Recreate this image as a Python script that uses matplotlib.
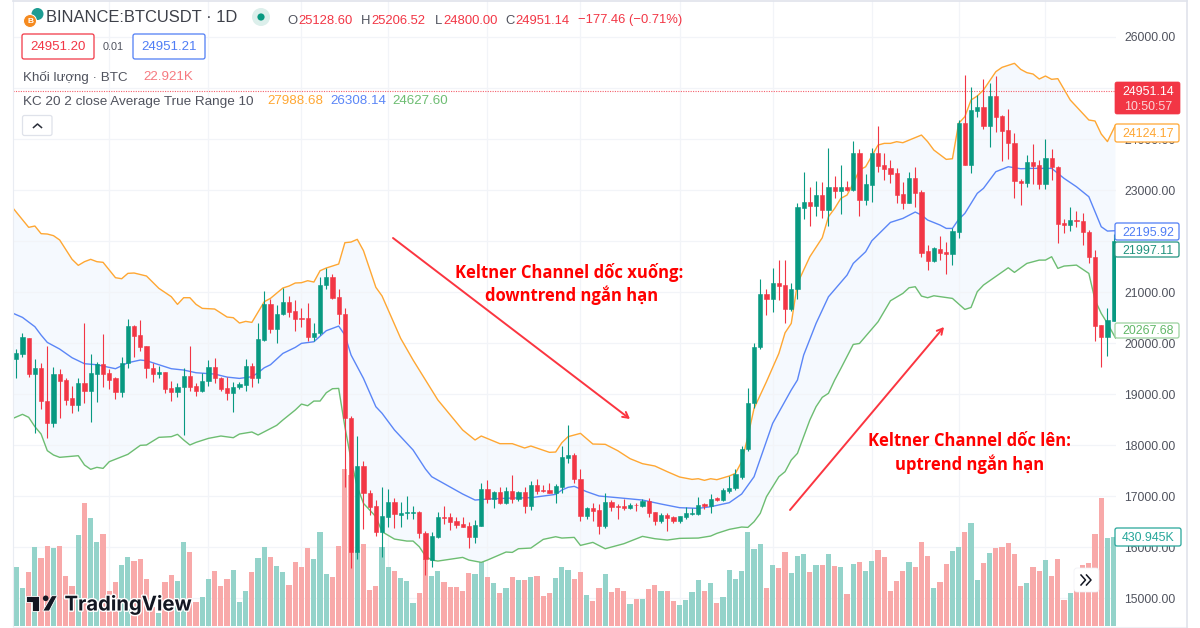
import numpy as np
import matplotlib
matplotlib.use('Agg')
import matplotlib.pyplot as plt
import matplotlib.patheffects as pe
from matplotlib.patches import Circle, FancyBboxPatch, Polygon

opens = [19687, 19785, 20106, 19393, 19517, 18864, 18434, 19393, 19276, 18916,
         18792, 19210, 19053, 19400, 19583, 19406, 19315, 19040, 19615, 20334,
         20158, 19942, 19517, 19393, 19426, 19112, 19040, 19132, 19354, 19158,
         19053, 19249, 19537, 19321, 19112, 19021, 19132, 19178, 19550, 19315,
         20060, 20759, 20276, 20570, 20805, 20628, 20491, 20485, 20125, 20191,
         21138, 21289, 20897, 20576, 18526, 15898, 17591, 17061, 16807, 16297,
         16597, 16885, 16637, 16663, 16669, 16689, 16271, 15748, 16205, 16591,
         16591, 16512, 16454, 16414, 16192, 16414, 17146, 16950, 17081, 16859,
         17101, 16937, 17081, 16807, 17218, 17114, 17120, 17068, 17173, 17754,
         17800, 17342, 16610, 16774, 16728, 16414, 16885, 16807, 16807, 16761,
         16833, 16807, 16905, 16689, 16519, 16630, 16591, 16512, 16591, 16643,
         16650, 16846, 16807, 16957, 16924, 17107, 17153, 17381, 17917, 18833,
         19915, 20954, 20863, 21170, 21131, 20660, 21052, 22647, 22771, 22686,
         22902, 22608, 23052, 22987, 23065, 23007, 23732, 22804, 23098, 23732,
         23490, 23425, 23327, 22922, 22745, 23229, 22954, 21797, 21601, 21843,
         21784, 21752, 22183, 24320, 23490, 24556, 24627, 24255, 24843, 24451,
         24176, 23928, 23176, 23131, 23555, 23490, 23118, 23621, 23457, 22353,
         22320, 22412, 22392, 22183, 21693, 20353, 20124, 20438]
highs = [19877, 20191, 20106, 19681, 19615, 19942, 19537, 19485, 19308, 19158,
         19308, 20387, 19785, 19635, 20178, 19485, 19328, 19720, 20465, 20354,
         20452, 19942, 19615, 19550, 19439, 19256, 19223, 19504, 19942, 19223,
         19419, 19668, 19700, 19341, 19328, 19243, 19243, 19681, 19602, 20400,
         21021, 20870, 20740, 21080, 20923, 20844, 20694, 20792, 20387, 21289,
         21472, 21354, 21066, 20681, 18578, 18186, 17689, 17120, 16924, 17173,
         17133, 16970, 16892, 17003, 16807, 16709, 16323, 16303, 16695, 16807,
         16663, 16597, 16584, 16493, 16532, 17251, 17316, 17107, 17173, 17186,
         17408, 17107, 17173, 17297, 17342, 17212, 17251, 17238, 17983, 18388,
         17852, 17525, 16793, 16859, 16846, 17055, 16924, 16846, 16950, 16859,
         16859, 16937, 16970, 16695, 16663, 16663, 16610, 16610, 16780, 16761,
         16976, 16872, 17035, 16976, 17153, 17395, 17525, 17989, 19114, 20002,
         21248, 21052, 21464, 21627, 21627, 21170, 22752, 23359, 23065, 23176,
         23163, 23817, 23274, 23490, 23183, 23961, 23797, 23314, 23817, 24255,
         23719, 23588, 23425, 23150, 23359, 23444, 23000, 21922, 21889, 22098,
         21987, 22248, 24373, 25255, 25013, 24863, 25176, 25105, 25242, 24471,
         24588, 24124, 23209, 23686, 23902, 23588, 23993, 23797, 23471, 22438,
         22660, 22595, 22542, 22216, 21824, 20353, 20680, 22137]
lows = [19308, 19733, 19328, 18238, 18713, 18140, 18356, 18532, 18785, 18630,
        18670, 18818, 18454, 18851, 19145, 19093, 18910, 18949, 19504, 19720,
        19851, 19315, 19230, 19315, 19027, 18857, 18949, 18199, 19066, 18968,
        19047, 19158, 19223, 19066, 18883, 18650, 19099, 19066, 19145, 19223,
        20047, 20191, 19995, 20550, 20504, 20243, 20321, 20047, 20047, 20158,
        21066, 20870, 20374, 17180, 15584, 15761, 16349, 16630, 16218, 15800,
        16401, 16369, 16401, 16558, 16558, 16186, 15454, 15617, 16173, 16454,
        16336, 16369, 16388, 15977, 16088, 16414, 16872, 16774, 16846, 16846,
        16859, 16911, 16676, 16728, 17042, 17081, 17055, 16859, 17068, 17643,
        17264, 16519, 16558, 16519, 16258, 16375, 16715, 16545, 16728, 16741,
        16715, 16793, 16584, 16441, 16480, 16323, 16480, 16480, 16545, 16624,
        16637, 16754, 16676, 16911, 16898, 17060, 17120, 17329, 17891, 18721,
        19889, 20549, 20614, 20843, 20399, 20634, 20856, 22425, 22294, 22490,
        22457, 22294, 22850, 22529, 22987, 22980, 22490, 22706, 22758, 23359,
        23196, 23144, 22739, 22627, 22739, 22673, 21693, 21431, 21588, 21627,
        21346, 21523, 22052, 23490, 23327, 24438, 24190, 23837, 24144, 23575,
        23601, 22843, 22712, 23052, 23118, 23013, 23026, 23196, 21967, 22163,
        22189, 22268, 21915, 21575, 20039, 19536, 19752, 20438]
closes = [19798, 20112, 19393, 19517, 18857, 18434, 19393, 19263, 18883, 18785,
          19210, 19053, 19406, 19583, 19400, 19276, 19040, 19615, 20334, 20145,
          19929, 19511, 19400, 19426, 19106, 19040, 19145, 19354, 19145, 19053,
          19256, 19537, 19321, 19099, 19021, 19145, 19191, 19550, 19315, 20073,
          20759, 20269, 20576, 20805, 20615, 20472, 20465, 20125, 20204, 21145,
          21289, 20890, 20570, 18532, 15898, 17591, 17055, 16793, 16303, 16610,
          16885, 16650, 16663, 16689, 16689, 16271, 15761, 16218, 16597, 16578,
          16499, 16434, 16401, 16192, 16434, 17146, 16944, 17081, 16859, 17101,
          16944, 17081, 16807, 17212, 17101, 17101, 17068, 17199, 17767, 17800,
          17329, 16617, 16774, 16715, 16421, 16885, 16793, 16793, 16761, 16826,
          16820, 16905, 16676, 16519, 16630, 16578, 16519, 16610, 16663, 16676,
          16833, 16813, 16937, 16931, 17114, 17159, 17427, 17924, 18833, 19930,
          20954, 20856, 21170, 21118, 20660, 21059, 22660, 22771, 22693, 22902,
          22608, 23052, 22987, 23065, 23000, 23732, 22804, 23118, 23732, 23471,
          23412, 23314, 22908, 22739, 23229, 22935, 21771, 21608, 21863, 21765,
          21752, 22189, 24320, 23497, 24569, 24627, 24261, 24843, 24438, 24163,
          23915, 23170, 23144, 23555, 23471, 23118, 23621, 23444, 22340, 22320,
          22412, 22386, 22183, 21693, 20340, 20124, 20451, 21993]
volumes_k = [287, 183, 260, 384, 329, 387, 379, 387, 243, 195,
             441, 595, 522, 407, 446, 169, 211, 295, 332, 315,
             324, 227, 93, 60, 214, 247, 219, 405, 357, 117,
             138, 227, 264, 192, 227, 271, 115, 171, 260, 329,
             384, 334, 292, 260, 198, 308, 284, 376, 324, 455,
             251, 235, 387, 760, 732, 368, 397, 174, 192, 384,
             287, 268, 232, 218, 110, 159, 322, 243, 265, 212,
             188, 188, 167, 256, 251, 308, 236, 207, 159, 183,
             238, 222, 222, 238, 243, 146, 159, 231, 286, 270,
             227, 259, 149, 120, 183, 251, 163, 183, 167, 105,
             129, 129, 178, 197, 167, 170, 120, 102, 125, 163,
             222, 167, 210, 110, 138, 270, 227, 266, 456, 373,
             397, 184, 295, 281, 357, 255, 339, 349, 260, 295,
             295, 349, 291, 284, 155, 300, 308, 266, 315, 368,
             336, 171, 216, 266, 312, 284, 405, 339, 184, 211,
             300, 363, 381, 454, 498, 223, 303, 352, 380, 384,
             401, 349, 195, 208, 287, 266, 320, 242, 325, 127,
             158, 206, 295, 305, 446, 619, 428, 431]

upper_idx = [-0.5, 2, 3, 4, 5, 6, 7, 9, 10, 11, 12, 13, 14, 16, 17, 18, 19, 21, 23, 25,
             26, 27, 28, 29, 30, 32, 34, 35, 36, 37, 38, 40, 41, 43, 44, 45, 46, 47, 48, 49,
             50, 52, 53, 54, 55, 56, 58, 59, 62, 64, 66, 68, 72, 74, 75, 78, 80, 82, 83, 86,
             87, 88, 89, 91, 93, 95, 97, 99, 101, 103, 105, 107, 109, 110, 111, 112, 113, 115, 116, 117,
             118, 119, 120, 121, 123, 124, 125, 126, 127, 128, 130, 131, 132, 133, 134, 135, 136, 137, 139, 140,
             141, 142, 143, 146, 147, 148, 150, 151, 152, 153, 154, 155, 156, 158, 159, 161, 162, 163, 164, 165,
             166, 167, 168, 170, 171, 173, 174, 175, 176, 177.3]
upper = [22642, 22269, 22295, 22145, 22138, 22106, 22021, 21642, 21524, 21596, 21642, 21596, 21583, 21282, 21262, 21367, 21374, 21315, 21073, 20910,
         20759, 20890, 20890, 20759, 20681, 20668, 20511, 20498, 20393, 20426, 20406, 20812, 20877, 21080, 21119, 21178, 21184, 21223, 21197, 21419,
         21472, 21550, 21968, 21981, 22034, 21812, 21093, 20923, 20093, 19669, 19277, 18885, 18297, 18101, 18179, 18029, 18029, 17944, 17983, 17859,
         17865, 18048, 18166, 18231, 18022, 18016, 17892, 17735, 17637, 17591, 17480, 17375, 17329, 17342, 17310, 17342, 17323, 17395, 17447, 17676,
         18166, 18721, 18983, 19244, 19797, 20202, 20386, 21170, 21431, 21693, 22065, 22477, 22640, 22837, 22902, 23131, 23392, 23457, 23882, 23915,
         23915, 23948, 23928, 24078, 23948, 23784, 23601, 23614, 24307, 24438, 24765, 24843, 24961, 25320, 25405, 25484, 25366, 25301, 25274, 25176,
         25235, 25170, 25183, 24765, 24634, 24373, 24353, 24098, 23950, 24275]
middle_idx = [-0.5, 1, 3, 4, 5, 7, 9, 11, 13, 16, 18, 20, 21, 23, 25, 27, 29, 32, 34, 36,
              38, 39, 40, 41, 43, 45, 46, 48, 50, 52, 53, 54, 56, 58, 59, 61, 64, 66, 67, 72,
              74, 76, 80, 83, 87, 88, 89, 90, 92, 94, 97, 101, 104, 107, 110, 112, 115, 117, 119, 122,
              125, 126, 127, 129, 131, 134, 135, 137, 138, 141, 143, 145, 146, 147, 149, 150, 151, 152, 153, 155,
              156, 158, 160, 162, 164, 167, 169, 171, 173, 175, 176, 177.3]
middle = [20583, 20504, 20321, 20158, 20014, 19883, 19713, 19596, 19576, 19498, 19615, 19668, 19655, 19576, 19498, 19472, 19419, 19393, 19334, 19308,
          19341, 19419, 19517, 19576, 19798, 19916, 19995, 20027, 20243, 20334, 20158, 19766, 19308, 18753, 18624, 18297, 17905, 17532, 17382, 17042,
          16924, 16944, 16963, 16970, 17035, 17120, 17173, 17192, 17088, 17003, 16970, 16924, 16846, 16774, 16761, 16793, 16872, 17042, 17381, 18427,
          19081, 19277, 19765, 20386, 20908, 21333, 21562, 21791, 22006, 22366, 22444, 22569, 22510, 22412, 22314, 22248, 22248, 22425, 22542, 22935,
          23033, 23359, 23457, 23418, 23425, 23425, 23229, 23065, 22869, 22281, 22196, 22203]
lower_idx = [-0.5, 1, 2, 3, 4, 5, 6, 7, 10, 11, 12, 13, 14, 15, 18, 20, 21, 23, 25, 26,
             27, 28, 29, 31, 33, 35, 36, 38, 39, 42, 43, 45, 46, 47, 48, 49, 50, 51, 52, 53,
             54, 55, 56, 58, 59, 61, 63, 64, 65, 66, 67, 68, 72, 73, 75, 76, 79, 80, 81, 83,
             85, 87, 88, 90, 91, 93, 95, 98, 101, 103, 105, 107, 110, 112, 113, 115, 117, 118, 119, 120,
             121, 123, 124, 125, 126, 128, 129, 130, 131, 132, 133, 135, 136, 139, 141, 143, 144, 145, 146, 147,
             148, 151, 153, 154, 155, 156, 160, 161, 163, 165, 166, 167, 168, 169, 171, 173, 174, 175, 176, 177.3]
lower = [18526, 18604, 18545, 18362, 18218, 17892, 17807, 17761, 17793, 17611, 17526, 17565, 17545, 17676, 17820, 17996, 18003, 18153, 18166, 18212,
         18101, 18003, 18055, 18133, 18179, 18146, 18218, 18258, 18199, 18388, 18493, 18689, 18805, 18772, 18864, 18864, 19027, 19106, 19112, 18362,
         17709, 17186, 16859, 16597, 16303, 16159, 16120, 16120, 16009, 15826, 15748, 15728, 15800, 15748, 15702, 15748, 15905, 15898, 15970, 15983,
         16153, 16205, 16179, 16192, 16035, 16094, 15970, 16068, 16212, 16166, 16140, 16173, 16179, 16218, 16271, 16349, 16395, 16388, 16499, 16663,
         16989, 17381, 17480, 17708, 17839, 18493, 18754, 18937, 19016, 19275, 19503, 19974, 19993, 20418, 20830, 20974, 21085, 21105, 20922, 20889,
         20928, 20876, 20660, 20699, 21007, 21137, 21477, 21386, 21562, 21627, 21627, 21693, 21464, 21510, 21529, 21366, 20843, 20582, 20386, 20100]

price_ticks = [26000, 25000, 24000, 23000, 22000, 21000, 20000, 19000, 18000, 17000, 16000, 15000]
hidden_ticks = [25000, 22000]  # sit behind the price tags
date_grid_idx = [15, 31, 46, 60, 76, 91, 107, 122, 138, 152, 166]
last_price = 24951.14

GREEN = '#089981'
RED = '#f23645'
VOL_GREEN = '#94d3ca'
VOL_RED = '#f8a9a9'
ORANGE = '#ffa733'
BLUE = '#5b86f7'
KC_GREEN = '#6dbd72'
TEXT = '#50535e'
GRID = '#f2f4f8'
FONT = 'Liberation Sans'

plt.rcParams['font.family'] = [FONT, 'DejaVu Sans']

fig = plt.figure(figsize=(12, 6.28), dpi=100, facecolor='white')
rect = [13 / 1200, 0, (1115.5 - 13) / 1200, 1]
ax_grid = fig.add_axes(rect, zorder=0)
ax_vol = fig.add_axes(rect, zorder=1)
ax = fig.add_axes(rect, zorder=2)
ax_vol.patch.set_visible(False)
ax.patch.set_visible(False)

x = np.arange(len(opens))
opens_a = np.array(opens)
closes_a = np.array(closes)
up = closes_a >= opens_a
xlim = (-0.53, 177.3)
ylim = (14416, 26725)

# grid sits under everything
ax_grid.set_xlim(*xlim)
ax_grid.set_ylim(*ylim)
ax_grid.vlines(date_grid_idx, *ylim, color=GRID, lw=0.9)
ax_grid.hlines(price_ticks, *xlim, color=GRID, lw=0.9)
ax_grid.axis('off')

# channel fill stays behind the volume pane
ax_grid.fill(list(upper_idx) + list(lower_idx)[::-1], list(upper) + list(lower)[::-1],
             color='#f4f9fe', alpha=0.85, lw=0, zorder=0.5)

# volume pane
ax_vol.bar(x, volumes_k, width=0.84, color=[VOL_GREEN if u else VOL_RED for u in up])
ax_vol.set_xlim(*xlim)
ax_vol.set_ylim(-11, 3040)
ax_vol.axis('off')

ax.plot(upper_idx, upper, color=ORANGE, lw=1.0, zorder=2)
ax.plot(middle_idx, middle, color=BLUE, lw=1.0, zorder=2)
ax.plot(lower_idx, lower, color=KC_GREEN, lw=1.0, zorder=2)

# candles
colors = [GREEN if u else RED for u in up]
ax.vlines(x, lows, highs, colors=colors, lw=0.8, zorder=3)
ax.bar(x, np.abs(closes_a - opens_a), bottom=np.minimum(opens_a, closes_a), width=0.68,
       color=colors, edgecolor=colors, lw=0.4, zorder=4)

ax.axhline(last_price, color='#f4606c', lw=0.8, ls=(0, (1, 1.2)), zorder=1.5)

ax.set_xlim(*xlim)
ax.set_ylim(*ylim)
ax.set_xticks([])
ax.yaxis.tick_right()
ax.set_yticks(price_ticks)
ax.set_yticklabels(['' if p in hidden_ticks else '%.2f' % p for p in price_ticks],
                   fontsize=8.7, color=TEXT)
ax.tick_params(axis='y', length=0, pad=6.2)
for p in ['top', 'left', 'right', 'bottom']:
    ax.spines[p].set_visible(False)

# chart furniture, in screen pixels
ui = fig.add_axes([0, 0, 1, 1], zorder=5)
ui.set_xlim(0, 1200)
ui.set_ylim(628, 0)
ui.axis('off')
ui.patch.set_visible(False)


def label(px, py, s, color=TEXT, size=8.7, **kw):
    kw.setdefault('va', 'center')
    return ui.text(px, py, s, color=color, fontsize=size, **kw)


def box(x0, y0, x1, y1, edge, face='white', lw=0.9, r=2):
    ui.add_patch(FancyBboxPatch((x0 + r, y0 + r), x1 - x0 - 2 * r, y1 - y0 - 2 * r,
                                boxstyle='round,pad=%g,rounding_size=%g' % (r, r),
                                fc=face, ec=edge, lw=lw))


ui.plot([13, 13], [0, 626], color='#e9ecf2', lw=0.8)
ui.plot([13, 1187], [0.5, 0.5], color='#e0e3eb', lw=1.2)
ui.plot([13, 1187], [626.5, 626.5], color='#eef0f5', lw=0.8)
ui.plot([1187, 1187], [0, 628], color='#e0e3eb', lw=1.2)

# price scale tags
box(1115, 82, 1180, 114, RED, RED, lw=0.5)
label(1148, 92, '24951.14', 'white', 8.9, ha='center')
label(1148, 106.5, '10:50:57', '#fbd5d8', 8.9, ha='center')
for top, bot, s, c, bc in [(124, 142, '24124.17', ORANGE, ORANGE),
                           (223, 240, '22195.92', '#4f7df5', '#4f7df5'),
                           (242, 257, '21997.11', '#22937f', '#22937f'),
                           (323, 338, '20267.68', '#62b868', '#9bd29f')]:
    box(1115, top, 1179, bot, bc)
    label(1148, (top + bot) / 2 + 1, s, c, 8.9, ha='center')
box(1115, 528, 1181, 546, '#26a69a')
label(1148, 538, '430.945K', '#26a69a', 8.9, ha='center')

# header
ui.add_patch(Circle((37.5, 14), 6, fc='#1d9c92', ec='none'))
ui.add_patch(Circle((30, 21), 6.5, fc='#f58a1f', ec='white', lw=0.7))
label(30, 21.5, 'B', 'white', 6, ha='center', fontweight='bold')
label(45.5, 18, 'BINANCE:BTCUSDT · 1D', '#3d4049', 11.9)
ui.add_patch(Circle((261, 17), 9, fc='#dcefeb', ec='none'))
ui.add_patch(Circle((261, 17), 3.6, fc=GREEN, ec='none'))

for px, s, c in [(287, 'O', TEXT), (298, '25128.60', RED), (361, 'H', TEXT), (371.5, '25206.52', RED),
                 (434.5, 'L', TEXT), (443, '24800.00', RED), (505, 'C', TEXT), (515.5, '24951.14', RED),
                 (578, '\u2212177.46 (\u22120.71%)', RED)]:
    label(px, 20.5, s, c, 9.4)

box(22, 34, 94, 59, RED)
label(58, 47, '24951.20', RED, 9.5, ha='center')
label(113.5, 47, '0.01', TEXT, 7.8, ha='center')
box(133, 34, 205, 59, '#4f7df5')
label(169, 47, '24951.21', '#4f7df5', 9.5, ha='center')

label(23, 77.5, 'Khối lượng · BTC', TEXT, 9.6)
label(143, 77, '22.921K', '#f67a80', 9.6)
label(23, 101.5, 'KC 20 2 close Average True Range 10', TEXT, 9.7)
label(267, 101.5, '27988.68', ORANGE, 9.6)
label(330, 101.5, '26308.14', BLUE, 9.6)
label(392, 101.5, '24627.60', KC_GREEN, 9.6)

box(22.5, 115.5, 52, 135.5, '#dfe2ea')
ui.plot([33.5, 37.5, 41.5], [127.5, 124, 127.5], color='#2a2e39', lw=1.1)

# annotations
arrow = dict(arrowstyle='->,head_length=0.4,head_width=0.22', color='#fb3540', lw=1.4, shrinkA=0, shrinkB=0)
ui.annotate('', xy=(630, 419), xytext=(393, 238), arrowprops=arrow)
ui.annotate('', xy=(944, 327), xytext=(790, 510), arrowprops=arrow)
for cx, cy, s in [(569.5, 272, 'Keltner Channel dốc xuống:'), (572, 295, 'downtrend ngắn hạn'),
                  (970, 441, 'Keltner Channel dốc lên:'), (970, 464, 'uptrend ngắn hạn')]:
    ui.text(cx, cy, s, color='#ff0000', fontsize=11.95, fontweight='bold', ha='center', va='center',
            family=['Open Sans', 'DejaVu Sans'])

# watermark
wm = '#131722'
ui.add_patch(Polygon([(26, 595.7), (39.3, 595.7), (39.3, 611), (32.3, 611), (32.3, 601.7), (26, 601.7)],
                     fc=wm, ec='white', lw=0.6))
ui.add_patch(Circle((45.7, 598.3), 2.8, fc=wm, ec='none'))
ui.add_patch(Polygon([(51.7, 595.7), (57.3, 595.7), (49.3, 611), (42.7, 611)], fc=wm, ec='white', lw=0.6))
t = ui.text(64.5, 605, 'TradingView', color=wm, fontsize=14.6, fontweight='bold', va='center',
            family=['Inter', 'DejaVu Sans'])
t.set_path_effects([pe.withStroke(linewidth=2, foreground='white')])

# scroll button
box(1074, 568, 1099, 592, '#eef0f4', 'white', lw=0.5, r=3)
ui.plot([1081, 1085.5, 1081], [575, 580, 585], color='#131722', lw=1.1)
ui.plot([1086.5, 1091, 1086.5], [575, 580, 585], color='#131722', lw=1.1)

fig.savefig('out.png', dpi=100, facecolor='white')
